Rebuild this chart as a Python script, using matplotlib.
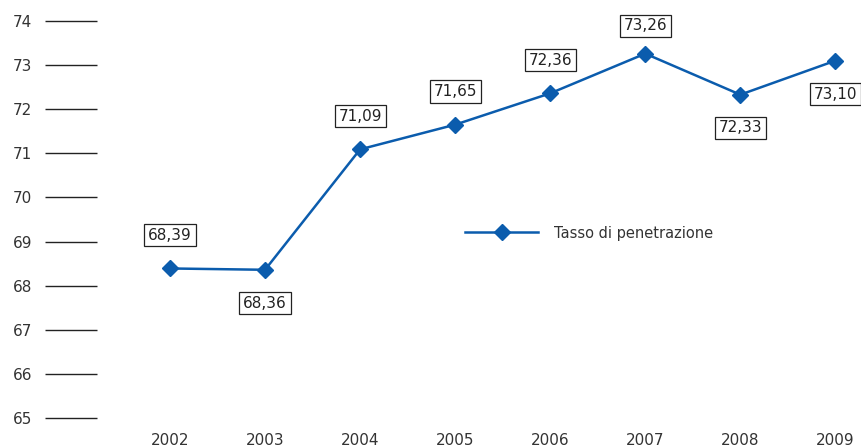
import matplotlib.pyplot as plt

years = ["2002", "2003", "2004", "2005", "2006", "2007", "2008", "2009"]
tasso = [68.39, 68.36, 71.09, 71.65, 72.36, 73.26, 72.33, 73.10]
# label above (+1) or below (-1) the marker
label_side = [1, -1, 1, 1, 1, 1, -1, -1]
y_ticks = list(range(65, 75))

BLUE = "#0b5cad"

plt.rcParams["font.family"] = ["DejaVu Sans"]

fig = plt.figure(figsize=(8.61, 4.48), dpi=100)
ax = fig.add_axes([97 / 861, 1 - 418 / 448, (861 - 97) / 861, (418 - 21) / 448])

x = list(range(len(years)))
ax.plot(x, tasso, color=BLUE, lw=1.8, marker="D", markersize=8,
        label="Tasso di penetrazione", clip_on=False)

for xi, v, side in zip(x, tasso, label_side):
    off = 24 if side > 0 else -24
    if xi == 5:
        off = 20
    ax.annotate(f"{v:.2f}".replace(".", ","), (xi, v), xytext=(0, off),
                textcoords="offset points", ha="center", va="center",
                fontsize=11, color="#222222",
                bbox=dict(boxstyle="square,pad=0.25", fc="white", ec="#222222", lw=0.9))

ax.set_xlim(-0.768, 7.27)
ax.set_ylim(65, 74)
ax.set_xticks(x)
ax.set_xticklabels(years)
ax.set_yticks(y_ticks)
ax.tick_params(axis="y", length=37.5, width=1.0, color="#222222", pad=9,
               labelsize=11, labelcolor="#333333")
ax.tick_params(axis="x", length=0, pad=10.5, labelsize=11, labelcolor="#333333")
for s in ax.spines.values():
    s.set_visible(False)

ax.legend(loc="center left", bbox_to_anchor=(452 / 861, 1 - 233 / 448),
          bbox_transform=fig.transFigure, frameon=False, fontsize=10.5,
          handlelength=5, handletextpad=1.1, labelcolor="#333333")

fig.savefig("out.png", dpi=100)
